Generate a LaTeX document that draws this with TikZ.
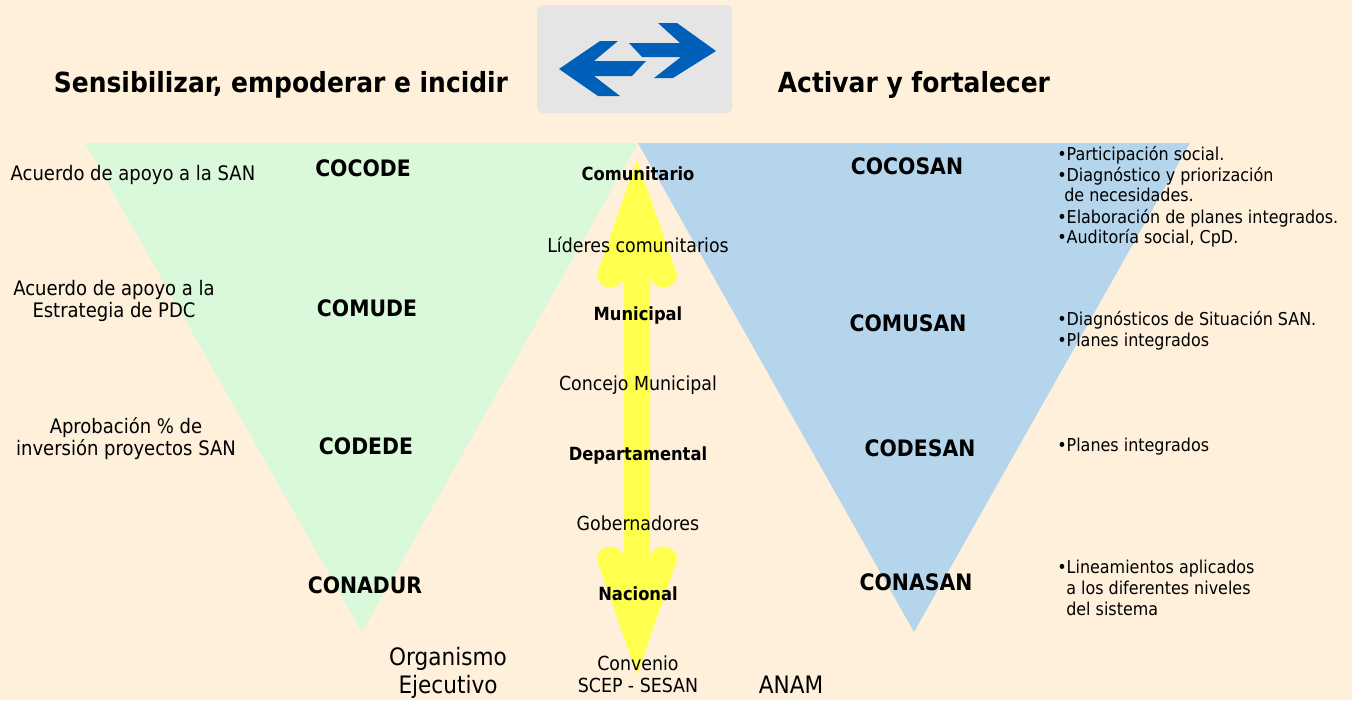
\documentclass[tikz,border=0pt]{standalone}
\usepackage{fontspec}
\setmainfont{DejaVu Sans Condensed}
\definecolor{bgc}{HTML}{FEF0DA}
\definecolor{boxgray}{HTML}{E5E5E5}
\definecolor{arrblue}{HTML}{005FB8}
\definecolor{trigreen}{HTML}{DAF8DA}
\definecolor{triblue}{HTML}{B4D5EC}
\definecolor{yel}{HTML}{FFFF4D}
\tikzset{
  every node/.style={inner sep=0pt, text=black},
  ttl/.style={font=\bfseries\fontsize{20.8}{24}\selectfont, anchor=base},
  big/.style={font=\bfseries\fontsize{17}{20}\selectfont, anchor=base},
  lvl/.style={font=\bfseries\fontsize{13.6}{16}\selectfont, anchor=base},
  txt/.style={font=\fontsize{14.5}{17}\selectfont, anchor=base},
  lft/.style={font=\fontsize{15}{18}\selectfont, anchor=base},
  bul/.style={font=\fontsize{13.3}{16}\selectfont, anchor=base west},
  org/.style={font=\fontsize{18}{21}\selectfont, anchor=base},
}
\begin{document}
\begin{tikzpicture}[x=0.75pt,y=-0.75pt]
\useasboundingbox (0,0) rectangle (1352,700);
\fill[bgc] (0,0) rectangle (1352,700);
% gray box with arrows
\fill[boxgray, rounded corners=4pt] (537,5) rectangle (732,113);
\fill[arrblue] (629,43) -- (680,43) -- (658,23) -- (677,23) -- (716,51) -- (673,78) -- (654,78) -- (681,57) -- (642,57) -- cycle;
\fill[arrblue] (559,69) -- (600,41) -- (618,41) -- (594,61) -- (646,61) -- (632,76) -- (594,76) -- (620,96) -- (598,96) -- cycle;
% triangles
\fill[trigreen] (85,143) -- (638,143) -- (362,632) -- cycle;
\fill[triblue] (638,143) -- (1190,143) -- (914,632) -- cycle;
% yellow double arrow
\fill[yel] (637,160) -- (597,274) .. controls (597,292) and (624,292) .. (624,274)
  -- (624,560) .. controls (624,542) and (597,542) .. (597,560)
  -- (637,675) -- (677,560) .. controls (677,542) and (650,542) .. (650,560)
  -- (650,274) .. controls (650,292) and (677,292) .. (677,274) -- cycle;
% titles
\node[ttl] (t1) at (281,92) {Sensibilizar, empoderar e incidir};
\node[ttl] (t2) at (914,92) {Activar y fortalecer};
% left texts
\node[lft] (l1) at (133,180) {Acuerdo de apoyo a la SAN};
\node[lft] (l2a) at (114,295) {Acuerdo de apoyo a la};
\node[lft] (l2b) at (114,317) {Estrategia de PDC};
\node[lft] (l3a) at (126,433) {Aprobación \% de};
\node[lft] (l3b) at (126,455) {inversión proyectos SAN};
% left councils
\node[big] (c1) at (363,176) {COCODE};
\node[big] (c2) at (367,316) {COMUDE};
\node[big] (c3) at (366,454) {CODEDE};
\node[big] (c4) at (365,593) {CONADUR};
% right councils
\node[big] (s1) at (907,174) {COCOSAN};
\node[big] (s2) at (908,331) {COMUSAN};
\node[big] (s3) at (920,456) {CODESAN};
\node[big] (s4) at (916,590) {CONASAN};
% center column
\node[lvl] (m1) at (638,180) {Comunitario};
\node[txt] (m2) at (638,252) {Líderes comunitarios};
\node[lvl] (m3) at (638,320) {Municipal};
\node[txt] (m4) at (638,390) {Concejo Municipal};
\node[lvl] (m5) at (638,460) {Departamental};
\node[txt] (m6) at (638,530) {Gobernadores};
\node[lvl] (m7) at (638,600) {Nacional};
\node[txt] (m8a) at (638,670) {Convenio};
\node[txt] (m8b) at (638,692) {SCEP - SESAN};
% bottom
\node[org] (o1) at (448,665) {Organismo};
\node[org] (o2) at (448,693) {Ejecutivo};
\node[org] (an) at (791,693) {ANAM};
% bullets
\node[bul] (b1) at (1057,160) {•Participación social.};
\node[bul] (b2) at (1057,181) {•Diagnóstico y priorización};
\node[bul] (b3) at (1064,201) {de necesidades.};
\node[bul] (b4) at (1057,223) {•Elaboración de planes integrados.};
\node[bul] (b5) at (1057,243) {•Auditoría social, CpD.};
\node[bul] (b6) at (1057,325) {•Diagnósticos de Situación SAN.};
\node[bul] (b7) at (1057,346) {•Planes integrados};
\node[bul] (b8) at (1057,451) {•Planes integrados};
\node[bul] (b9) at (1057,573) {•Lineamientos aplicados};
\node[bul] (b10) at (1066,594) {a los diferentes niveles};
\node[bul] (b11) at (1066,615) {del sistema};
\end{tikzpicture}
\end{document}
